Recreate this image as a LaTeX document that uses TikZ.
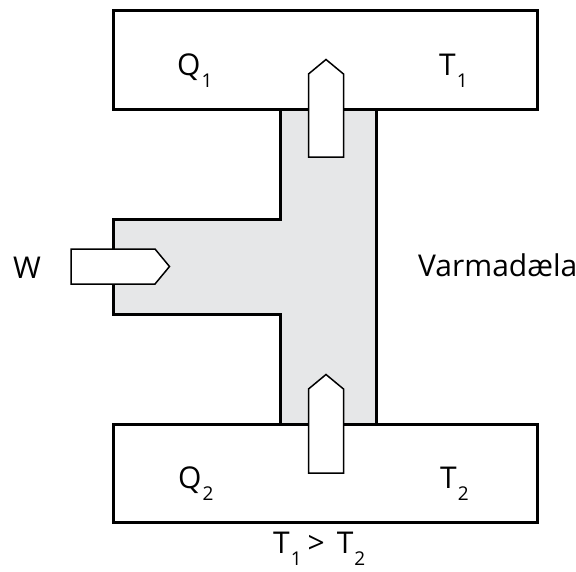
\documentclass[tikz,border=0pt]{standalone}
\usepackage{fontspec}
\setmainfont{Open Sans}
\newcommand\sbs[1]{\hspace{1pt}\raisebox{-12pt}{\fontsize{19}{19}\selectfont #1}}
\definecolor{grayfill}{HTML}{E6E7E8}
\tikzset{
  thick box/.style={draw=black, line width=3pt, fill=white},
  tshape/.style={draw=black, line width=3pt, fill=grayfill, line join=miter},
  flowarrow/.style={draw=black, line width=1.5pt, fill=white, line join=miter},
  lbl/.style={inner sep=0pt, anchor=base west, font=\fontsize{30}{30}\selectfont}
}
\begin{document}
\begin{tikzpicture}[x=1pt,y=-1pt]
\useasboundingbox (0,0) rectangle (576,571);
% gray T-shaped body
\draw[tshape] (280.5,109) -- (280.5,219) -- (113.5,219) -- (113.5,314.5) -- (280.5,314.5) -- (280.5,424) -- (376,424) -- (376,109);
% reservoirs
\draw[thick box] (113.5,10.5) rectangle (537.5,109);
\draw[thick box] (113.5,424) rectangle (537.5,522);
% arrows
\draw[flowarrow] (308.5,157) -- (308.5,74) -- (326,59.5) -- (343.5,74) -- (343.5,157) -- cycle;
\draw[flowarrow] (308.5,473) -- (308.5,389) -- (326,374.5) -- (343.5,389) -- (343.5,473) -- cycle;
\draw[flowarrow] (71,249) -- (155,249) -- (169.5,266.5) -- (155,284) -- (71,284) -- cycle;
% labels
\node[lbl] (q1) at (177,75) {Q\sbs{1}};
\node[lbl] (t1) at (439,75) {T\sbs{1}};
\node[lbl] (q2) at (178,488) {Q\sbs{2}};
\node[lbl] (t2) at (440,488) {T\sbs{2}};
\node[lbl] (w) at (13,278.5) {W};
\node[lbl] (pump) at (418,276.5) {Varmadæla};
\node[lbl] (rel) at (273,553) {T\sbs{1}\hspace{6pt}>\hspace{12pt}T\sbs{2}};
\end{tikzpicture}
\end{document}
